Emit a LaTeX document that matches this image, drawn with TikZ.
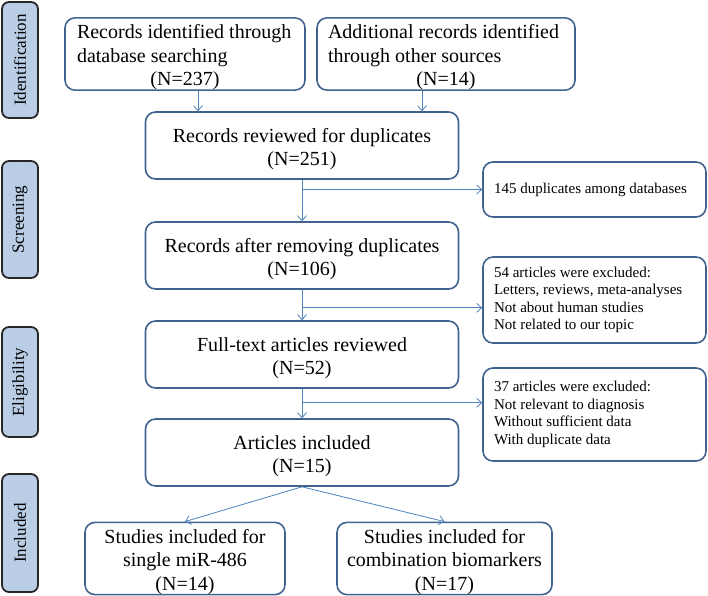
\documentclass[tikz,border=0pt]{standalone}
\usepackage{fontspec}
\setmainfont{Liberation Serif}
\usetikzlibrary{calc,arrows.meta}
\setlength{\parindent}{0pt}
\newcommand{\upstrut}{\rule{0pt}{21pt}}
\definecolor{boxblue}{RGB}{63,98,143}
\definecolor{arrowblue}{RGB}{79,129,189}
\definecolor{stagefill}{RGB}{185,205,229}

\begin{document}
\begin{tikzpicture}[x=1pt,y=-1pt,
  stage/.style={draw=black!85,line width=1.8pt,fill=stagefill,rounded corners=7pt,minimum height=36pt,inner sep=0pt,rotate=90,font=\fontsize{17}{20}\selectfont},
  stepbox/.style={draw=boxblue,line width=1.6pt,rounded corners=10pt,inner sep=0pt,align=center,minimum height=67pt,font=\fontsize{20}{23.5}\selectfont},
  srcbox/.style={stepbox,align=flush left,minimum height=68pt},
  notebox/.style={draw=boxblue,line width=1.6pt,rounded corners=10pt,inner xsep=11pt,inner ysep=0pt,minimum width=223pt,text width=201pt,align=flush left,font=\fontsize{15}{17.5}\selectfont},
  flow/.style={draw=arrowblue,line width=0.8pt,-{Straight Barb[length=5pt,width=9pt]}}]
\useasboundingbox (0,0) rectangle (708,595);

% stages
\node[stage,minimum width=116pt] (ident) at (20,60) {Identification};
\node[stage,minimum width=117pt] (screen) at (20,219.5) {Screening};
\node[stage,minimum width=110pt] (elig) at (20,382) {Eligibility};
\node[stage,minimum width=118pt] (incl) at (20,533) {Included};

% main boxes
\node[srcbox,inner xsep=12pt,text width=216pt] (A) at (185,54) {\upstrut Records identified through\\database searching\\\makebox[216pt]{(N=237)}};
\node[srcbox,inner xsep=11pt,text width=236pt] (B) at (446,54) {\upstrut Additional records identified\\through other sources\\\makebox[236pt]{(N=14)}};
\node[stepbox,minimum width=313pt] (C) at (302,145.5) {\upstrut Records reviewed for duplicates\\(N=251)};
\node[stepbox,minimum width=313pt] (E) at (302,255.5) {\upstrut Records after removing duplicates\\(N=106)};
\node[stepbox,minimum width=313pt] (G) at (302,354.5) {\upstrut Full-text articles reviewed\\(N=52)};
\node[stepbox,minimum width=313pt] (I) at (302,452.5) {\upstrut Articles included\\(N=15)};
\node[stepbox,minimum width=200pt] (J) at (185,558.5) {\upstrut Studies included for\\single miR-486\\(N=14)};
\node[stepbox,minimum width=215pt] (K) at (444.5,558.5) {\upstrut Studies included for\\combination biomarkers\\(N=17)};

% side boxes
\node[notebox,minimum height=55pt] (D) at (594.5,189.5) {145 duplicates among databases};
\node[notebox,minimum height=86pt] (F) at (594.5,300) {54 articles were excluded:\\Letters, reviews, meta-analyses\\Not about human studies\\Not related to our topic};
\node[notebox,minimum height=93pt] (H) at (594.5,414.5) {37 articles were excluded:\\Not relevant to diagnosis\\Without sufficient data\\With duplicate data};

% connectors
\draw[flow] ([xshift=13pt]A.south) -- ([xshift=13pt]A.south |- C.north);
\draw[flow] ([xshift=-24pt]B.south) -- ([xshift=-24pt]B.south |- C.north);
\draw[flow] (C.south) -- (E.north);
\draw[flow] (E.south) -- (G.north);
\draw[flow] (G.south) -- (I.north);
\draw[flow] (I.south) -- (J.north);
\draw[flow] (I.south) -- (K.north);
\coordinate (s1) at (C.south |- D.west);
\coordinate (s2) at ($(E.south)+(0,18)$);
\coordinate (s3) at ($(G.south)+(0,14)$);
\draw[flow] (s1) -- (D.west);
\draw[flow] (s2) -- (s2 -| F.west);
\draw[flow] (s3) -- (s3 -| H.west);
\end{tikzpicture}
\end{document}
